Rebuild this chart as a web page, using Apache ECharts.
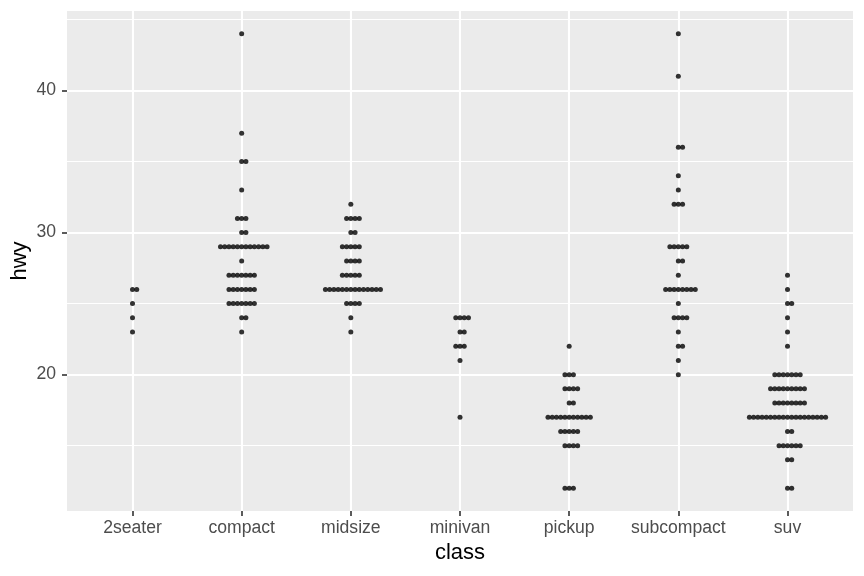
<!DOCTYPE html>
<html>
<head>
<meta charset="utf-8">
<script src="https://cdn.jsdelivr.net/npm/echarts@6/dist/echarts.min.js"></script>
<style>html,body{margin:0;padding:0;background:#fff}#c{width:864px;height:576px}</style>
</head>
<body>
<div id="c"></div>
<script>
// Categories (x axis)
const categories = ['2seater','compact','midsize','minivan','pickup','subcompact','suv'];
// hwy observations per class
const hwy_2seater = [26,25,26,24,23];
const hwy_compact = [44,37,35,35,33,31,31,31,30,30,
  29,29,29,29,29,29,29,29,29,29,29,29,28,
  27,27,27,27,27,27,27,26,26,26,26,26,26,26,25,25,25,25,25,25,25,24,24,23];
const hwy_midsize = [32,31,31,31,31,30,30,29,29,29,29,29,28,28,28,28,27,27,27,27,27,
  26,26,26,26,26,26,26,26,26,26,26,26,26,26,25,25,25,25,24,23];
const hwy_minivan = [24,24,24,24,23,23,22,22,22,21,17];
const hwy_pickup = [22,20,20,20,19,19,19,19,18,18,17,17,17,17,17,17,17,17,17,17,17,
  16,16,16,16,16,15,15,15,15,12,12,12];
const hwy_subcompact = [44,41,36,36,34,33,32,32,32,29,29,29,29,29,28,28,27,
  26,26,26,26,26,26,26,26,25,24,24,24,24,23,22,22,21,20];
const hwy_suv = [27,26,25,25,24,23,22,20,20,20,20,20,20,20,19,19,19,19,19,19,19,19,19,
  18,18,18,18,18,18,18,18,17,17,17,17,17,17,17,17,17,17,17,17,17,17,17,17,17,17,17,
  16,16,15,15,15,15,15,15,14,14,12,12];
// y axis tick labels
const yTicks = [20,30,40];
const yMinor = [15,25,35,45];

const groups = [hwy_2seater,hwy_compact,hwy_midsize,hwy_minivan,hwy_pickup,hwy_subcompact,hwy_suv];
const dotStep = 0.0388; // horizontal stacking step in category units
const points = [];
groups.forEach((vals, gi) => {
  const counts = {};
  vals.forEach(v => { counts[v] = (counts[v] || 0) + 1; });
  Object.keys(counts).forEach(k => {
    const n = counts[k];
    const base = Math.floor((n - 1) / 2);
    for (let i = 0; i < n; i++) {
      points.push([gi + 1 + (i - base) * dotStep, Number(k)]);
    }
  });
});

const font = 'Liberation Sans, Arial, sans-serif';
const catVals = categories.map((c, i) => i + 1);
const gridLines = [];
yMinor.forEach(v => gridLines.push({yAxis: v, lineStyle: {width: 1.05}}));
yTicks.forEach(v => gridLines.push({yAxis: v, lineStyle: {width: 2.1}}));
catVals.forEach(v => gridLines.push({xAxis: v, lineStyle: {width: 2.1}}));

const chart = echarts.init(document.getElementById('c'), null, {renderer: 'canvas'});
chart.setOption({
  animation: false,
  grid: {left: 67, right: 11, top: 11, bottom: 65, containLabel: false, outerBoundsMode: 'none',
    show: true, backgroundColor: '#EBEBEB', borderWidth: 0},
  xAxis: {
    type: 'value', min: 0.4, max: 7.6,
    name: 'class', nameLocation: 'middle', nameGap: 30.5, nameMoveOverlap: false,
    nameTextStyle: {fontFamily: font, fontSize: 22, color: '#000'},
    axisLine: {show: false},
    splitLine: {show: false},
    axisTick: {show: true, customValues: catVals, length: 5, lineStyle: {color: '#333333', width: 1.6}},
    axisLabel: {customValues: catVals, formatter: v => categories[Math.round(v) - 1] || '',
      fontFamily: font, fontSize: 17.6, color: '#4D4D4D', margin: 8}
  },
  yAxis: {
    type: 'value', min: 10.4, max: 45.6,
    name: 'hwy', nameLocation: 'middle', nameGap: 36, nameRotate: 90, nameMoveOverlap: false,
    nameTextStyle: {fontFamily: font, fontSize: 22, color: '#000'},
    axisLine: {show: false},
    splitLine: {show: false},
    axisTick: {show: true, customValues: yTicks, length: 5, lineStyle: {color: '#333333', width: 1.6}},
    axisLabel: {customValues: yTicks, fontFamily: font, fontSize: 17.6, color: '#4D4D4D', margin: 11}
  },
  series: [
    {
      type: 'scatter', z: 1, silent: true, symbolSize: 0, data: [[1, 20]],
      markLine: {z: 1, silent: true, symbol: 'none', animation: false, label: {show: false},
        lineStyle: {color: '#FFFFFF', type: 'solid'}, emphasis: {disabled: true}, data: gridLines}
    },
    {
      type: 'scatter', z: 10, symbol: 'circle', symbolSize: 5,
      itemStyle: {color: '#000000'}, data: points
    }
  ]
});
</script>
</body>
</html>
